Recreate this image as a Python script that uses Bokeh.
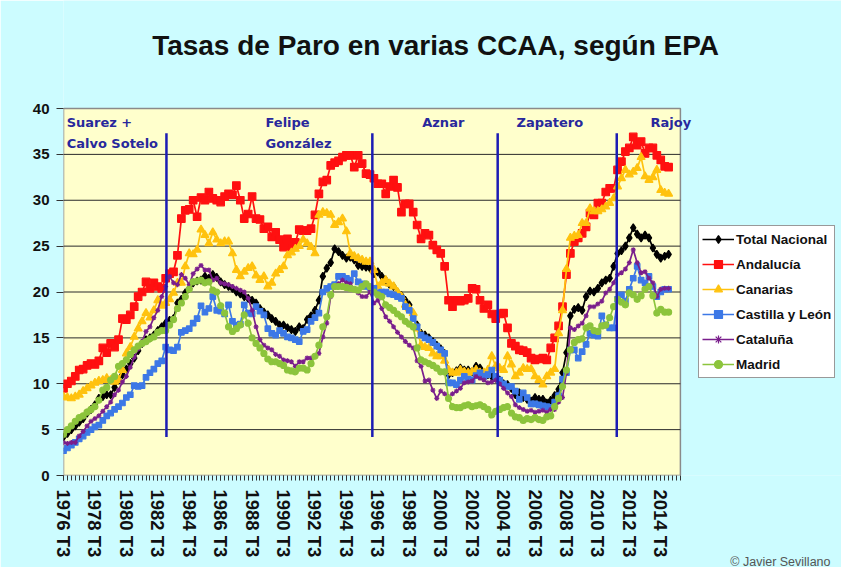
from bokeh.plotting import figure
from bokeh.models import Range1d, FixedTicker, Legend, LegendItem, Label, Title
from bokeh.embed import file_html
from bokeh.resources import INLINE

# ---------------- data (quarterly, 1976 T3 .. 2015 T1) ----------------
total_nacional = [
    4.2, 4.6, 5.0, 5.4, 5.8, 6.2, 6.8, 7.2, 7.7, 8.4,
    8.6, 8.8, 8.8, 9.6, 10.4, 11.0, 11.6, 12.2, 12.8, 13.6,
    14.4, 14.8, 15.0, 15.3, 15.8, 16.2, 16.6, 16.9, 17.1, 18.8,
    19.2, 19.9, 20.4, 21.0, 21.2, 21.3, 21.7, 21.5, 21.9, 21.6,
    21.1, 20.8, 20.6, 20.4, 20.0, 19.8, 19.5, 19.3, 19.1, 18.8,
    18.2, 17.8, 17.5, 17.1, 16.8, 16.4, 16.4, 16.1, 15.9, 15.7,
    16.2, 16.0, 17.0, 17.4, 18.0, 19.1, 21.7, 22.6, 23.2, 24.7,
    24.4, 24.0, 23.7, 23.8, 23.5, 22.9, 22.8, 22.7, 22.6, 22.0,
    22.2, 21.7, 21.3, 20.8, 20.6, 20.0, 19.6, 19.1, 18.6, 17.4,
    16.4, 15.5, 15.3, 15.0, 14.6, 14.2, 13.8, 13.3, 11.0, 11.2,
    11.4, 11.7, 11.5, 11.5, 11.3, 11.9, 11.7, 11.2, 11.0, 10.8,
    10.6, 10.4, 10.0, 9.9, 9.5, 8.8, 9.0, 8.5, 8.3, 8.1,
    8.5, 8.3, 8.3, 7.9, 8.2, 8.7, 9.4, 11.2, 13.4, 17.4,
    18.1, 18.3, 18.0, 19.5, 20.1, 20.0, 20.4, 21.0, 21.3, 21.5,
    22.8, 24.2, 24.5, 25.0, 25.9, 27.0, 26.3, 25.9, 26.2, 25.9,
    24.8, 24.1, 23.7, 23.9, 24.1,
]
andalucia = [
    9.5, 10.0, 10.3, 10.8, 11.5, 11.6, 12.0, 12.2, 12.1, 12.5,
    13.9, 13.4, 14.4, 14.0, 14.8, 17.1, 17.0, 17.5, 18.4, 19.5,
    20.0, 21.1, 20.4, 21.0, 20.6, 20.4, 21.5, 22.0, 22.2, 24.0,
    28.0, 28.9, 29.0, 30.0, 28.2, 30.3, 30.0, 30.9, 30.2, 30.0,
    29.8, 30.4, 30.7, 30.6, 31.6, 30.0, 28.0, 28.5, 30.4, 28.0,
    27.9, 26.9, 27.1, 26.0, 26.5, 25.7, 24.9, 25.8, 24.9, 25.4,
    26.8, 26.7, 26.7, 26.9, 28.4, 30.7, 32.0, 32.2, 33.8, 34.1,
    34.3, 34.7, 34.9, 34.9, 33.6, 34.9, 34.0, 32.9, 32.8, 32.4,
    31.8, 31.8, 30.7, 31.5, 32.2, 31.4, 28.7, 29.6, 29.6, 28.7,
    27.3, 25.8, 26.4, 26.2, 25.1, 24.6, 24.2, 22.8, 19.1, 18.4,
    19.1, 19.0, 19.1, 19.3, 20.4, 20.3, 19.1, 18.2, 18.6, 17.6,
    17.1, 17.6, 17.7, 16.1, 14.4, 14.1, 13.7, 13.6, 13.4, 12.8,
    12.6, 12.7, 12.8, 12.6, 13.9, 15.0, 16.3, 18.4, 21.9, 24.2,
    25.5, 25.9, 26.4, 27.1, 28.6, 28.4, 29.7, 29.7, 30.9, 31.3,
    31.3, 33.3, 34.2, 35.3, 35.7, 36.9, 36.0, 36.4, 35.1, 35.7,
    35.7, 34.9, 34.4, 33.7, 33.6,
]
canarias = [
    8.6, 8.5, 8.4, 8.6, 8.8, 9.2, 9.5, 9.8, 10.1, 10.3,
    10.4, 10.6, 10.4, 10.2, 10.4, 11.5, 13.3, 14.0, 15.1, 16.0,
    16.8, 17.7, 17.2, 18.0, 19.1, 18.5, 18.8, 19.2, 19.9, 21.0,
    21.0, 22.8, 24.2, 24.1, 24.6, 26.8, 26.2, 25.3, 26.5, 25.7,
    25.3, 25.5, 25.5, 24.2, 22.4, 21.7, 22.2, 22.6, 22.8, 21.8,
    21.3, 21.7, 20.6, 21.0, 22.0, 22.4, 22.8, 24.0, 24.3, 24.7,
    25.0, 25.7, 25.3, 24.9, 24.2, 28.4, 28.7, 28.6, 28.4, 27.3,
    27.6, 28.0, 26.6, 24.2, 23.9, 23.7, 23.5, 23.3, 23.3, 22.4,
    20.6, 21.0, 21.3, 20.9, 20.6, 20.0, 19.5, 18.6, 18.2, 17.7,
    16.0, 14.2, 14.0, 13.9, 13.3, 13.0, 13.0, 12.5, 11.5, 11.2,
    11.2, 11.5, 11.3, 11.2, 11.3, 11.5, 11.2, 11.2, 11.5, 13.0,
    11.9, 11.7, 11.5, 13.0, 12.1, 10.8, 11.2, 11.7, 11.6, 11.6,
    10.8, 10.4, 9.9, 10.8, 11.2, 11.6, 15.5, 18.0, 22.5, 25.9,
    26.1, 26.2, 27.5, 27.5, 29.1, 28.8, 28.8, 29.0, 29.3, 29.7,
    30.2, 31.5, 32.4, 33.3, 32.8, 33.1, 33.5, 34.7, 32.6, 32.2,
    32.5, 33.3, 31.1, 30.8, 30.7,
]
castilla_leon = [
    2.7, 3.0, 3.3, 3.6, 4.0, 4.3, 4.7, 5.0, 5.3, 5.5,
    6.0, 6.5, 6.8, 7.2, 7.5, 7.9, 8.5, 8.8, 9.8, 9.7,
    9.8, 10.7, 11.2, 11.6, 12.2, 12.5, 14.0, 13.7, 13.6, 14.0,
    15.6, 15.8, 16.0, 16.6, 17.1, 18.5, 17.8, 18.2, 19.5, 18.0,
    17.9, 17.6, 18.6, 16.8, 16.4, 16.5, 18.6, 17.7, 17.6, 18.4,
    17.9, 17.5, 16.0, 15.5, 15.3, 15.8, 15.5, 15.1, 15.0, 14.8,
    14.6, 15.7, 15.9, 16.8, 17.2, 17.7, 20.0, 20.4, 20.6, 20.8,
    21.7, 21.7, 21.5, 21.3, 22.0, 21.1, 20.9, 20.6, 20.5, 20.4,
    19.9, 20.0, 20.0, 19.8, 19.7, 19.5, 19.3, 18.4, 18.0, 17.1,
    16.2, 15.3, 15.0, 14.8, 14.5, 14.1, 13.7, 13.3, 10.1, 10.1,
    9.9, 10.4, 10.8, 10.5, 10.4, 10.9, 11.2, 10.8, 11.0, 11.5,
    10.8, 10.4, 10.0, 9.7, 9.7, 9.2, 8.3, 9.0, 8.5, 7.8,
    7.8, 7.7, 7.6, 7.5, 7.4, 8.0, 8.7, 10.5, 11.2, 13.7,
    13.7, 12.8, 13.5, 14.3, 15.5, 15.3, 15.2, 17.4, 16.4, 16.1,
    16.1, 19.2, 19.7, 19.0, 20.3, 21.5, 22.8, 21.3, 21.0, 21.7,
    20.6, 19.5, 20.0, 20.3, 20.3,
]
cataluna = [
    3.6, 3.5, 3.6, 3.6, 4.3, 4.8, 5.4, 5.9, 6.2, 6.5,
    7.0, 7.5, 8.0, 8.8, 9.3, 10.2, 10.8, 11.8, 12.9, 13.8,
    14.6, 15.7, 16.2, 17.2, 18.0, 19.5, 20.6, 21.7, 21.0, 20.8,
    21.9, 21.5, 20.8, 22.0, 22.5, 22.9, 22.4, 22.4, 21.3, 21.5,
    21.0, 20.9, 20.8, 20.6, 20.4, 20.2, 20.0, 19.3, 18.0, 16.2,
    14.8, 14.2, 13.9, 13.7, 13.2, 13.0, 12.6, 12.5, 12.4, 11.9,
    12.4, 12.4, 12.8, 12.8, 13.0, 13.3, 15.1, 16.6, 19.5, 20.6,
    20.9, 21.3, 21.0, 20.9, 20.3, 19.9, 19.5, 19.5, 20.0, 18.8,
    19.1, 18.2, 17.3, 16.8, 16.2, 15.6, 15.1, 14.6, 14.2, 13.9,
    12.5, 11.9, 10.3, 10.4, 9.3, 8.4, 9.2, 8.9, 8.6, 8.9,
    9.2, 9.5, 10.1, 10.2, 10.3, 10.8, 10.6, 10.4, 10.1, 10.2,
    10.4, 10.0, 9.5, 9.0, 8.6, 7.7, 7.4, 7.2, 7.0, 7.1,
    6.9, 7.0, 7.1, 6.9, 7.2, 7.2, 8.0, 8.5, 11.2, 16.1,
    15.9, 16.3, 16.6, 17.4, 18.4, 18.4, 18.7, 19.0, 19.9, 20.3,
    21.0, 21.9, 22.1, 22.5, 23.2, 24.6, 23.2, 22.1, 22.2, 21.5,
    21.0, 19.5, 20.3, 20.4, 20.4,
]
madrid = [
    4.5, 5.0, 5.4, 5.9, 6.3, 6.5, 6.9, 7.2, 7.5, 8.2,
    9.3, 9.6, 10.4, 10.8, 11.9, 12.2, 12.6, 13.2, 13.7, 14.1,
    14.4, 14.6, 14.9, 15.1, 15.6, 15.8, 15.8, 16.4, 17.0, 18.2,
    18.8, 19.5, 20.3, 21.1, 21.2, 21.3, 21.0, 21.1, 20.2, 20.0,
    18.5, 17.7, 16.2, 15.7, 16.0, 16.4, 17.5, 16.6, 15.0, 14.4,
    13.9, 13.3, 12.7, 12.4, 12.4, 12.2, 12.0, 11.5, 11.4, 11.3,
    11.7, 11.7, 11.5, 12.2, 13.0, 14.2, 16.2, 17.3, 19.7, 20.6,
    20.6, 20.6, 20.5, 20.4, 20.3, 20.2, 20.6, 20.9, 20.6, 20.0,
    19.7, 19.5, 18.6, 18.3, 18.0, 17.6, 17.3, 16.8, 16.5, 16.2,
    13.9, 12.6, 12.4, 12.2, 12.0, 11.7, 11.3, 11.3, 8.4, 7.5,
    7.4, 7.4, 7.6, 7.7, 7.5, 7.6, 7.7, 7.5, 7.2, 6.6,
    7.0, 7.2, 7.4, 7.5, 6.8, 6.4, 6.3, 6.0, 6.2, 6.1,
    6.3, 6.1, 6.0, 6.4, 6.5, 7.5, 8.4, 9.7, 11.5, 13.7,
    14.5, 14.8, 14.9, 16.1, 16.3, 15.8, 15.7, 16.3, 16.4, 17.2,
    18.4, 19.2, 18.9, 18.6, 19.9, 19.7, 19.2, 19.6, 20.3, 20.6,
    19.6, 17.7, 18.1, 17.8, 17.8,
]
quarter_index = list(range(len(total_nacional)))

tick_labels = ["1976 T3", "1978 T3", "1980 T3", "1982 T3", "1984 T3",
               "1986 T3", "1988 T3", "1990 T3", "1992 T3", "1994 T3",
               "1996 T3", "1998 T3", "2000 T3", "2002 T3", "2004 T3",
               "2006 T3", "2008 T3", "2010 T3", "2012 T3", "2014 T3"]
tick_positions = [8 * i for i in range(len(tick_labels))]
axis_start, axis_end = 0, 157          # category axis extent (quarters)
y_ticks = [0, 5, 10, 15, 20, 25, 30, 35, 40]

series_names = ["Total Nacional", "Andalucía", "Canarias",
                "Castilla y León", "Cataluña", "Madrid"]
series_values = [total_nacional, andalucia, canarias, castilla_leon, cataluna, madrid]

gov_change_q = [26.2, 78.6, 110.5, 140.8]
gov_line_bottom = [4.2, 4.2, 4.2, 4.2]
gov_line_top = [37.3, 37.3, 37.3, 37.3]
gov_labels = ["Suarez +\nCalvo Sotelo", "Felipe\nGonzález", "Aznar", "Zapatero", "Rajoy"]
gov_label_q = [0.8, 51.4, 91.3, 115.3, 149.4]

# ---------------- styles ----------------
colors = ["#000000", "#FF1010", "#FFC20E", "#3C78E6", "#7A1E8C", "#8CC43C"]
markers = ["diamond", "square", "triangle", "square", "asterisk", "circle"]
msizes = [8, 7.5, 8, 5.5, 5, 6]
PAGE_BG = "#CCFCFF"
PLOT_BG = "#FFFFCC"
GOV_BLUE = "#1C1CB4"
LABEL_BLUE = "#28289C"

W, H = 841, 567
# The frame covers the whole canvas above the x axis and right of the y axis,
# so that the title, the legend and the "Rajoy" label (all outside the yellow
# plot area) are not clipped.  Scale: 40 units over the 367 px plot-area height.
p = figure(width=W, height=H, output_backend="svg", toolbar_location=None,
           title=None,
           x_range=Range1d(0, 198), y_range=Range1d(0, 40 * 475 / 367),
           min_border_left=63, min_border_right=0,
           min_border_top=0, min_border_bottom=92)
p.background_fill_color = PAGE_BG
p.border_fill_color = PAGE_BG
p.outline_line_color = None

# yellow plot area with its border
p.quad(left=[axis_start], right=[axis_end], bottom=[y_ticks[0]], top=[y_ticks[-1]],
       fill_color=PLOT_BG, line_color="#8A8A8A", line_width=1.5)
# horizontal grid lines
p.segment(x0=[axis_start] * 7, x1=[axis_end] * 7, y0=y_ticks[1:-1], y1=y_ticks[1:-1],
          line_color="#2A2A2A", line_width=1)

p.xgrid.visible = False
p.ygrid.visible = False

p.yaxis.ticker = FixedTicker(ticks=y_ticks)
p.yaxis.major_label_text_font = "Liberation Sans"
p.yaxis.major_label_text_font_style = "bold"
p.yaxis.major_label_text_font_size = "15px"
p.yaxis.major_label_text_color = "#111111"
p.yaxis.major_tick_out = 7
p.yaxis.major_tick_in = 0
p.yaxis.minor_tick_line_color = None
p.yaxis.major_label_standoff = 7
p.yaxis.axis_line_color = None
p.yaxis.major_tick_line_color = "#333333"

p.xaxis.ticker = FixedTicker(ticks=tick_positions,
                             minor_ticks=list(range(axis_start, axis_end + 1)))
p.xaxis.major_label_overrides = {t: lab for t, lab in zip(tick_positions, tick_labels)}
p.xaxis.major_label_orientation = "vertical"
p.xaxis.major_label_text_font = "Liberation Sans"
p.xaxis.major_label_text_font_style = "bold"
p.xaxis.major_label_text_font_size = "18.5px"
p.xaxis.major_label_text_color = "#111111"
p.xaxis.major_tick_out = 5
p.xaxis.major_tick_in = 0
p.xaxis.minor_tick_out = 5
p.xaxis.minor_tick_in = 0
p.xaxis.minor_tick_line_color = "#333333"
p.xaxis.major_tick_line_color = "#333333"
p.xaxis.axis_line_color = None
p.xaxis.major_label_standoff = 9

items = []
for name, vals, c, m, s in zip(series_names, series_values, colors, markers, msizes):
    ln = p.line(quarter_index, vals, line_color=c, line_width=1.7)
    sc = p.scatter(quarter_index, vals, marker=m, size=s, fill_color=c,
                   line_color=c, line_width=1.2)
    items.append(LegendItem(label=name, renderers=[ln, sc]))

# government change lines
p.segment(x0=gov_change_q, y0=gov_line_bottom, x1=gov_change_q, y1=gov_line_top,
          line_color=GOV_BLUE, line_width=2.5)

for lab, q in zip(gov_labels, gov_label_q):
    p.add_layout(Label(x=q, y=39.3, text=lab, text_font="DejaVu Sans",
                       text_font_style="bold", text_font_size="13px",
                       text_color=LABEL_BLUE, text_baseline="top",
                       text_align="left", text_line_height=1.4))

# title, centred above the plot area
p.add_layout(Label(x=94.7, y=46.85, text="Tasas de Paro en varias CCAA, según EPA",
                   text_font="Liberation Sans", text_font_style="bold",
                   text_font_size="28px", text_color="#111111",
                   text_align="center", text_baseline="middle"))

legend = Legend(items=items, location=(635, 97), orientation="vertical",
                label_text_font="Liberation Sans", label_text_font_style="bold",
                label_text_font_size="13.5px", label_text_color="#111111",
                glyph_width=32, glyph_height=20, label_height=20,
                spacing=5, padding=3, margin=0, label_standoff=2,
                border_line_color="#333333", border_line_width=1.2,
                background_fill_color="#FFFFFF", background_fill_alpha=1.0)
p.add_layout(legend, "center")

# credit
credit = Title(text="© Javier Sevillano", align="right", offset=11, standoff=-16,
               text_font="Liberation Sans", text_font_style="normal",
               text_font_size="12.5px", text_color="#555555")
p.add_layout(credit, "below")

open("out.html", "w").write(file_html(p, INLINE))
